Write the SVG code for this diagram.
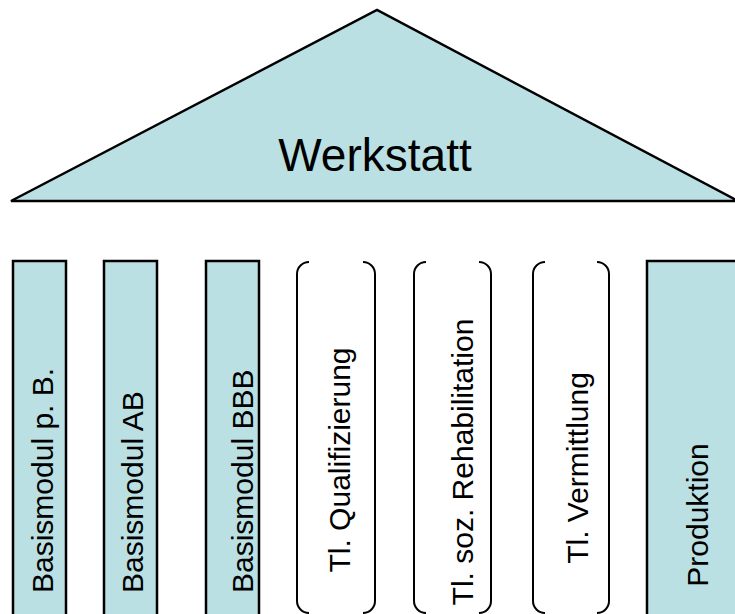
<svg xmlns="http://www.w3.org/2000/svg" width="735" height="614" viewBox="0 0 735 614">
<style>
.fill{fill:#bbe0e3;stroke:#000;stroke-width:2.5}
.br{fill:none;stroke:#000;stroke-width:2}
.lbl{font-family:"Liberation Sans",Arial,sans-serif;font-size:30px;fill:#000}
.title{font-family:"Liberation Sans",Arial,sans-serif;font-size:46px;fill:#000;text-anchor:middle}
.mid{text-anchor:middle}
</style>
<rect width="735" height="614" fill="#fff"/>
<g id="werkstatt">
<polygon class="fill" points="11,201 377,10 738,201"/>
<text class="title" x="375" y="171">Werkstatt</text>
</g>
<g id="basismodul-pb">
<rect class="fill" x="13" y="261" width="53" height="365"/>
<text class="lbl" transform="translate(53,593) rotate(-90)">Basismodul p. B.</text>
</g>
<g id="basismodul-ab">
<rect class="fill" x="104" y="261" width="53" height="365"/>
<text class="lbl" transform="translate(143,593) rotate(-90)">Basismodul AB</text>
</g>
<g id="basismodul-bbb">
<rect class="fill" x="206" y="261" width="53" height="365"/>
<text class="lbl" transform="translate(253,593) rotate(-90)">Basismodul BBB</text>
</g>
<g id="tl-qualifizierung">
<path class="br" d="M309,262 A12,12 0 0 0 297,274 V601 A12,12 0 0 0 309,613 M363,262 A12,12 0 0 1 375,274 V601 A12,12 0 0 1 363,613"/>
<text class="lbl mid" transform="translate(350,460) rotate(-90)">Tl. Qualifizierung</text>
</g>
<g id="tl-soz-rehabilitation">
<path class="br" d="M426,262 A12,12 0 0 0 414,274 V601 A12,12 0 0 0 426,613 M479,262 A12,12 0 0 1 491,274 V601 A12,12 0 0 1 479,613"/>
<text class="lbl mid" transform="translate(473,462) rotate(-90)">Tl. soz. Rehabilitation</text>
</g>
<g id="tl-vermittlung">
<path class="br" d="M545,262 A12,12 0 0 0 533,274 V601 A12,12 0 0 0 545,613 M597,262 A12,12 0 0 1 609,274 V601 A12,12 0 0 1 597,613"/>
<text class="lbl mid" transform="translate(588,468) rotate(-90)">Tl. Vermittlung</text>
</g>
<g id="produktion">
<rect class="fill" x="647" y="261" width="100" height="365"/>
<text class="lbl mid" transform="translate(708,515) rotate(-90)">Produktion</text>
</g>
<g id="connectors"/>
</svg>
